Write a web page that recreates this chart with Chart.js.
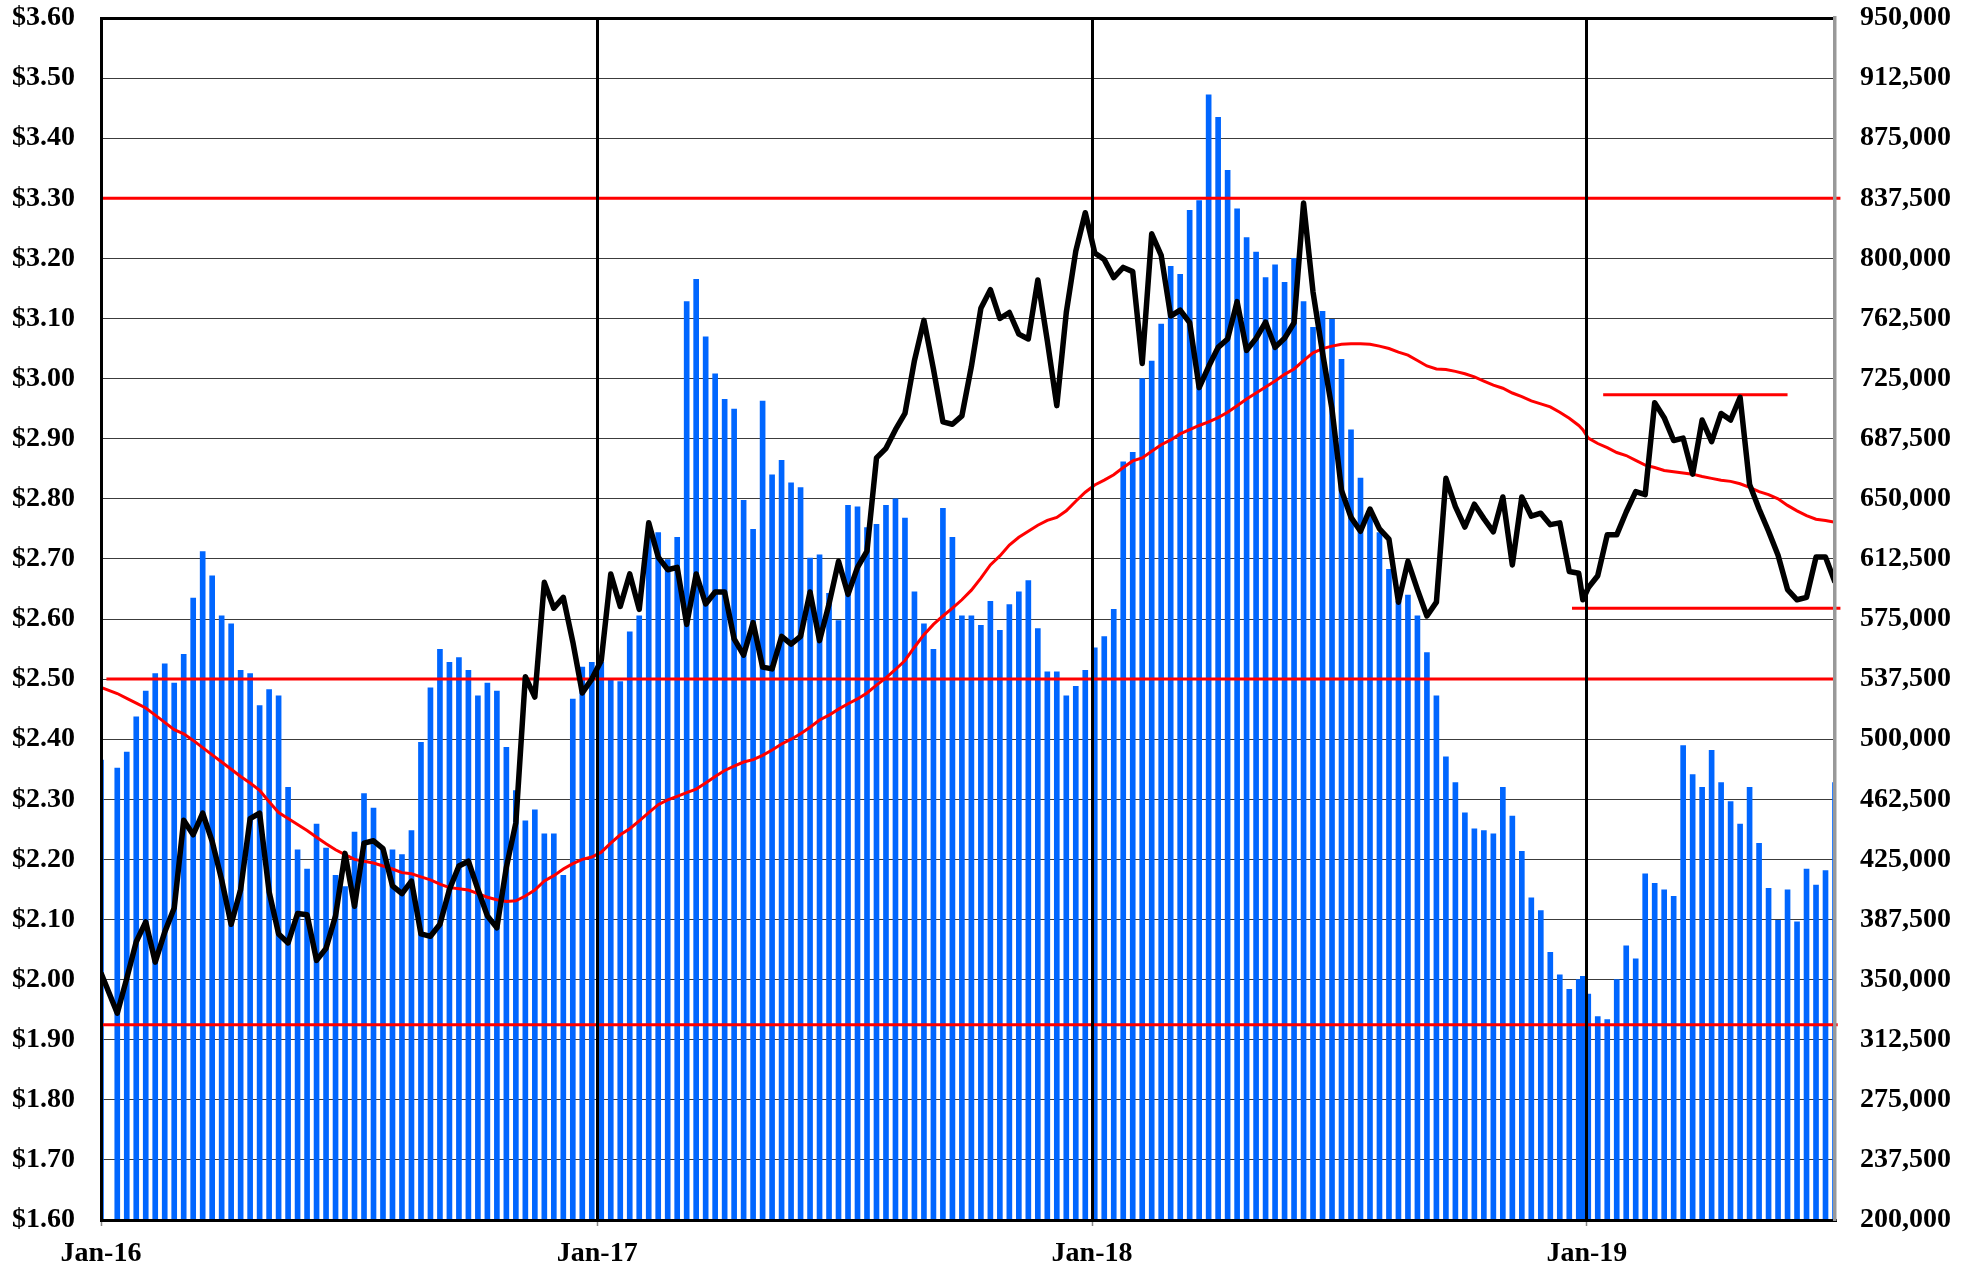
<!DOCTYPE html>
<html>
<head>
<meta charset="utf-8">
<title>Weekly price and volume</title>
<script src="https://cdn.jsdelivr.net/npm/chart.js@4.4.1/dist/chart.umd.min.js"></script>
<style>
  html, body { margin: 0; padding: 0; background: #fff; }
  #chart { display: block; }
</style>
</head>
<body>
<canvas id="chart" width="1982" height="1270"></canvas>
<script>
// x = days since 1 Jan 2016, one point a week (plus the first day and one late-Dec extra)
const weekDays = [0];
for (let d = 12; d <= 1279; d += 7) weekDays.push(d);
weekDays.splice(156, 0, 1093);

const yearTicks = [0, 366, 731, 1096];
const yearLabels = ['Jan-16', 'Jan-17', 'Jan-18', 'Jan-19'];

// weekly price (left axis)
const price = [
  2.011, 1.944, 2.002, 2.063, 2.096, 2.029, 2.079, 2.119, 2.265, 2.241,
  2.277, 2.230, 2.166, 2.092, 2.150, 2.268, 2.277, 2.146, 2.076, 2.061,
  2.110, 2.108, 2.032, 2.052, 2.106, 2.210, 2.122, 2.227, 2.231, 2.218,
  2.156, 2.143, 2.164, 2.076, 2.072, 2.092, 2.150, 2.189, 2.197, 2.150,
  2.106, 2.086, 2.187, 2.261, 2.504, 2.470, 2.661, 2.618, 2.636, 2.562,
  2.477, 2.500, 2.531, 2.675, 2.621, 2.675, 2.616, 2.760, 2.703, 2.682,
  2.686, 2.591, 2.675, 2.625, 2.645, 2.645, 2.567, 2.540, 2.594, 2.520,
  2.517, 2.571, 2.558, 2.571, 2.645, 2.564, 2.625, 2.696, 2.641, 2.686,
  2.713, 2.868, 2.884, 2.915, 2.942, 3.030, 3.097, 3.016, 2.928, 2.924,
  2.938, 3.020, 3.117, 3.148, 3.100, 3.110, 3.074, 3.066, 3.164, 3.063,
  2.955, 3.110, 3.212, 3.276, 3.209, 3.198, 3.168, 3.185, 3.178, 3.025,
  3.241, 3.205, 3.104, 3.114, 3.093, 2.985, 3.020, 3.052, 3.066, 3.128,
  3.047, 3.067, 3.094, 3.052, 3.067, 3.093, 3.292, 3.144, 3.043, 2.949,
  2.814, 2.769, 2.746, 2.783, 2.750, 2.733, 2.628, 2.696, 2.649, 2.605,
  2.628, 2.834, 2.787, 2.753, 2.791, 2.767, 2.745, 2.803, 2.690, 2.803,
  2.771, 2.776, 2.757, 2.760, 2.679, 2.676, 2.632, 2.652, 2.672, 2.740,
  2.740, 2.778, 2.812, 2.807, 2.960, 2.935, 2.897, 2.901, 2.841, 2.931,
  2.895, 2.942, 2.931, 2.969, 2.824, 2.783, 2.746, 2.706, 2.649, 2.632,
  2.636, 2.703, 2.703, 2.661
];

// moving average of price (left axis)
const priceAvg = [
  2.486, 2.476, 2.468, 2.460, 2.452, 2.440, 2.428, 2.416, 2.409, 2.398,
  2.386, 2.374, 2.362, 2.350, 2.338, 2.327, 2.315, 2.296, 2.278, 2.268,
  2.258, 2.248, 2.237, 2.226, 2.216, 2.208, 2.200, 2.197, 2.194, 2.189,
  2.184, 2.178, 2.176, 2.171, 2.166, 2.159, 2.153, 2.151, 2.149, 2.143,
  2.137, 2.133, 2.130, 2.131, 2.139, 2.149, 2.164, 2.173, 2.184, 2.193,
  2.200, 2.204, 2.212, 2.227, 2.241, 2.251, 2.264, 2.278, 2.291, 2.299,
  2.305, 2.311, 2.317, 2.327, 2.338, 2.348, 2.355, 2.362, 2.366, 2.373,
  2.382, 2.392, 2.400, 2.409, 2.420, 2.432, 2.440, 2.450, 2.459, 2.467,
  2.477, 2.490, 2.502, 2.516, 2.531, 2.553, 2.574, 2.591, 2.605, 2.618,
  2.632, 2.648, 2.668, 2.690, 2.705, 2.723, 2.736, 2.746, 2.756, 2.764,
  2.769, 2.780, 2.796, 2.811, 2.823, 2.831, 2.840, 2.852, 2.863, 2.868,
  2.879, 2.890, 2.898, 2.908, 2.915, 2.922, 2.928, 2.935, 2.944, 2.955,
  2.966, 2.976, 2.986, 2.996, 3.007, 3.016, 3.030, 3.043, 3.050, 3.054,
  3.057, 3.058, 3.058, 3.057, 3.054, 3.050, 3.044, 3.039, 3.030, 3.021,
  3.016, 3.015, 3.012, 3.008, 3.003, 2.996, 2.989, 2.984, 2.976, 2.970,
  2.963, 2.958, 2.953, 2.944, 2.934, 2.922, 2.915, 2.901, 2.892, 2.885,
  2.877, 2.872, 2.864, 2.856, 2.852, 2.847, 2.845, 2.843, 2.841, 2.837,
  2.834, 2.831, 2.829, 2.825, 2.819, 2.812, 2.807, 2.800, 2.789, 2.780,
  2.772, 2.766, 2.764, 2.761
];

// weekly volume (right axis)
const volume = [
  487000, 482000, 492000, 514000, 530000, 541000, 547000, 535000, 553000, 588000,
  617000, 602000, 577000, 572000, 543000, 541000, 521000, 531000, 527000, 470000,
  431000, 419000, 447000, 432000, 415000, 408000, 442000, 466000, 457000, 431000,
  431000, 428000, 443000, 498000, 532000, 556000, 548000, 551000, 543000, 527000,
  535000, 530000, 495000, 468000, 449000, 456000, 441000, 441000, 415000, 525000,
  545000, 548000, 548000, 537000, 536000, 567000, 577000, 628000, 629000, 612000,
  626000, 773000, 787000, 751000, 728000, 712000, 706000, 649000, 631000, 711000,
  665000, 674000, 660000, 657000, 613000, 615000, 591000, 574000, 646000, 645000,
  632000, 634000, 646000, 650000, 638000, 592000, 572000, 556000, 644000, 626000,
  577000, 577000, 571000, 586000, 568000, 584000, 592000, 599000, 569000, 542000,
  542000, 527000, 533000, 543000, 557000, 564000, 581000, 673000, 679000, 725000,
  736000, 759000, 795000, 790000, 830000, 836000, 902000, 888000, 855000, 831000,
  813000, 804000, 788000, 796000, 785000, 800000, 773000, 757000, 767000, 762000,
  737000, 693000, 663000, 641000, 629000, 606000, 586000, 590000, 577000, 554000,
  527000, 489000, 473000, 454000, 444000, 443000, 441000, 470000, 452000, 430000,
  401000, 393000, 367000, 353000, 344000, 350000, 352000, 341000, 327000, 325000,
  350000, 371000, 363000, 416000, 410000, 406000, 402000, 496000, 478000, 470000,
  493000, 473000, 461000, 447000, 470000, 435000, 407000, 387000, 406000, 386000,
  419000, 409000, 418000, 473000
];

// red reference levels: [price, from day, to day]
const levels = [
  [3.30, 0, 1283],
  [2.50, 4, 1279],
  [1.925, 0, 1281],
  [2.973, 1108, 1244],
  [2.618, 1085, 1283]
];

const serif = '"Liberation Serif", "Times New Roman", serif';
const labelFont = { family: serif, size: 28, weight: 'bold' };

const pts = arr => weekDays.map((d, i) => ({ x: d, y: arr[i] }));

// keep the plot frame where it is: no extra room for overhanging labels
const noOverhang = s => {
  s.paddingTop = 0;
  s.paddingBottom = 0;
};

const levelSets = levels.map(l => ({
  type: 'line',
  data: [{ x: l[1], y: l[0] }, { x: l[2], y: l[0] }],
  yAxisID: 'y',
  borderColor: '#ff0000',
  borderWidth: 3,
  pointRadius: 0,
  clip: false,
  order: 5
}));

new Chart(document.getElementById('chart'), {
  type: 'bar',
  data: {
    datasets: [
      {
        type: 'line',
        data: pts(price),
        yAxisID: 'y',
        borderColor: '#000000',
        borderWidth: 5.5,
        borderJoinStyle: 'round',
        pointRadius: 0,
        tension: 0,
        order: 1
      },
      {
        type: 'line',
        data: pts(priceAvg),
        yAxisID: 'y',
        borderColor: '#ff0000',
        borderWidth: 3,
        pointRadius: 0,
        tension: 0,
        order: 2
      },
      ...levelSets,
      {
        type: 'bar',
        data: pts(volume),
        yAxisID: 'y2',
        backgroundColor: '#0066ff',
        barThickness: 5,
        clip: 0,
        order: 10
      }
    ]
  },
  options: {
    responsive: false,
    animation: false,
    devicePixelRatio: 1,
    layout: { padding: { top: 18, left: 0, right: 0, bottom: 0 } },
    plugins: { legend: { display: false }, tooltip: { enabled: false } },
    scales: {
      x: {
        type: 'linear',
        min: 0,
        max: 1279,
        offset: false,
        afterBuildTicks: s => { s.ticks = yearTicks.map(v => ({ value: v })); },
        afterFit: s => { s.height = 50; s.paddingLeft = 0; s.paddingRight = 0; },
        ticks: {
          autoSkip: false,
          maxRotation: 0,
          padding: 11,
          color: '#000',
          font: labelFont,
          callback: v => yearLabels[yearTicks.indexOf(v)]
        },
        grid: {
          offset: false,
          color: '#000',
          lineWidth: 3,
          z: 1,
          tickLength: 6,
          tickColor: '#888',
          tickWidth: 1.5
        },
        border: { color: '#000', width: 3, z: 1 }
      },
      y: {
        position: 'left',
        min: 1.6,
        max: 3.6,
        afterFit: s => { s.width = 101; noOverhang(s); },
        ticks: {
          stepSize: 0.1,
          padding: 26,
          color: '#000',
          font: labelFont,
          callback: v => '$' + v.toFixed(2)
        },
        grid: {
          drawTicks: false,
          color: c => Math.abs(c.tick.value - 3.6) < 1e-6 ? '#000' : '#3c3c3c',
          lineWidth: c => Math.abs(c.tick.value - 3.6) < 1e-6 ? 3 : 1
        },
        border: { color: '#000', width: 3, z: 1 }
      },
      y2: {
        position: 'right',
        min: 200000,
        max: 950000,
        afterFit: s => { s.width = 147; noOverhang(s); },
        ticks: {
          stepSize: 37500,
          padding: 25,
          color: '#000',
          font: labelFont,
          callback: v => v.toLocaleString('en-US')
        },
        grid: { display: false, drawTicks: false },
        border: { color: '#999', width: 3.5, z: 1 }
      }
    }
  }
});
</script>
</body>
</html>
